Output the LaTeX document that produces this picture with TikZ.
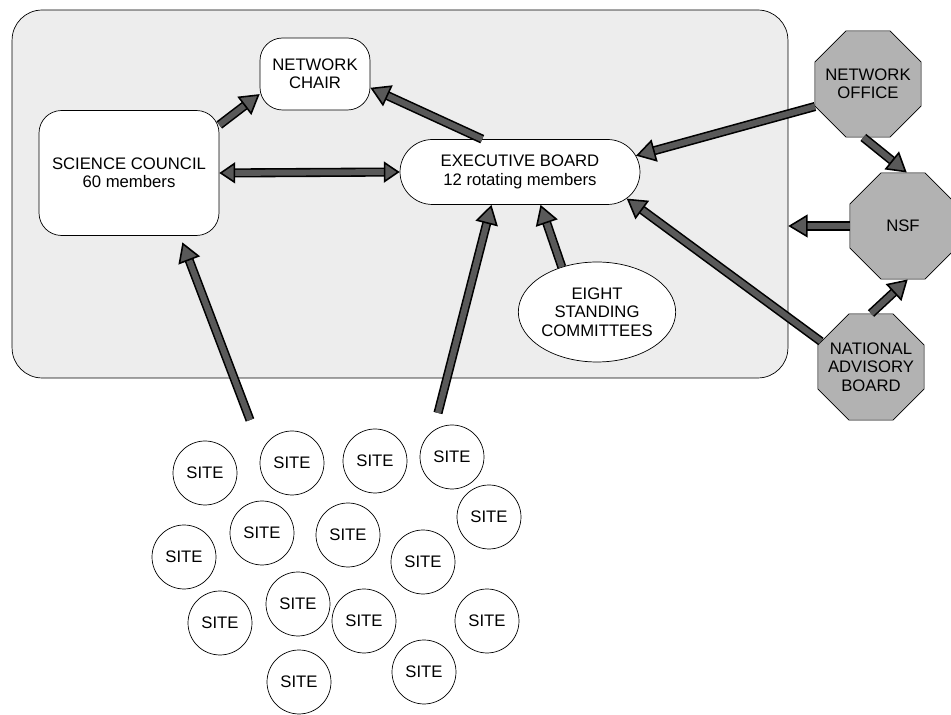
\documentclass[tikz,border=0pt]{standalone}
\usepackage{fontspec}
\setmainfont{Liberation Sans}
\usetikzlibrary{shapes.geometric,shapes.misc,arrows.meta}

\begin{document}
\begin{tikzpicture}[x=0.02cm,y=-0.02cm,
    every node/.style={font=\fontsize{9.5}{10.5}\selectfont, align=center},
    box/.style={draw, fill=white, rounded corners=0.45cm, inner sep=0pt},
    octa/.style={draw, fill=black!30, regular polygon, regular polygon sides=8,
      minimum size=2.3cm, inner sep=-6pt},
    site/.style={draw, fill=white, circle, minimum size=1.28cm, inner sep=0pt},
    fat/.style={draw=black, line width=0.9pt, double=black!65, double distance=3.4pt,
      -{Triangle[length=11pt,width=13pt,fill=black!65]}},
    fatboth/.style={fat, {Triangle[length=9pt,width=12pt,fill=black!65]}-{Triangle[length=9pt,width=12pt,fill=black!65]}},
  ]
  \useasboundingbox (0,0) rectangle (951,715);

  % the network
  \node[draw, fill=black!7, rounded corners=0.6cm, minimum width=15.52cm,
    minimum height=7.36cm] (net) at (400,194) {};
  \node[box, minimum width=2.2cm, minimum height=1.44cm] (nc) at (315,74) {NETWORK\\CHAIR};
  \node[box, minimum width=3.6cm, minimum height=2.5cm] (sc) at (129,173) {SCIENCE COUNCIL\\60 members};
  \node[draw, fill=white, rounded rectangle, minimum width=4.8cm, minimum height=1.3cm,
    inner sep=0pt] (eb) at (520,172) {EXECUTIVE BOARD\\12 rotating members};
  \node[draw, fill=white, ellipse, minimum width=3.1cm, minimum height=2cm,
    inner sep=0pt] (esc) at (597,312) {EIGHT\\STANDING\\COMMITTEES};

  % outside
  \node[octa] (no) at (868,84) {NETWORK\\OFFICE};
  \node[octa] (nsf) at (903,226) {NSF};
  \node[octa] (nab) at (871,367) {NATIONAL\\ADVISORY\\BOARD};

  % sites
  \foreach \x/\y [count=\i] in {205/473, 292/463, 375/461, 452/457, 489/517,
      262/533, 348/535, 184/557, 423/562, 220/623, 298/604, 364/621,
      487/621, 299/682, 424/672}
    \node[site] (s\i) at (\x,\y) {SITE};
  \coordinate (sl) at (250,420);
  \coordinate (sr) at (438,413);

  % arrows
  \draw[fat] (sc.28) -- (nc.200);
  \draw[fat] (eb.139) -- (nc.346);
  \draw[fatboth] (sc.east) -- (eb.west);
  \draw[fat] (no.203) -- (eb.8);
  \draw[fat] (no.265) -- (nsf.86);
  \draw[fat] (nsf.west) -- (nsf.west -| net.east);
  \draw[fat] (nab.90) -- (nsf.275);
  \draw[fat] (nab.153) -- (eb.-14);
  \draw[fat] (esc.128) -- (eb.302);
  \draw[fat, shorten >=4pt] (sl) -- (sc.309);
  \draw[fat] (sr) -- (eb.229);
\end{tikzpicture}
\end{document}
